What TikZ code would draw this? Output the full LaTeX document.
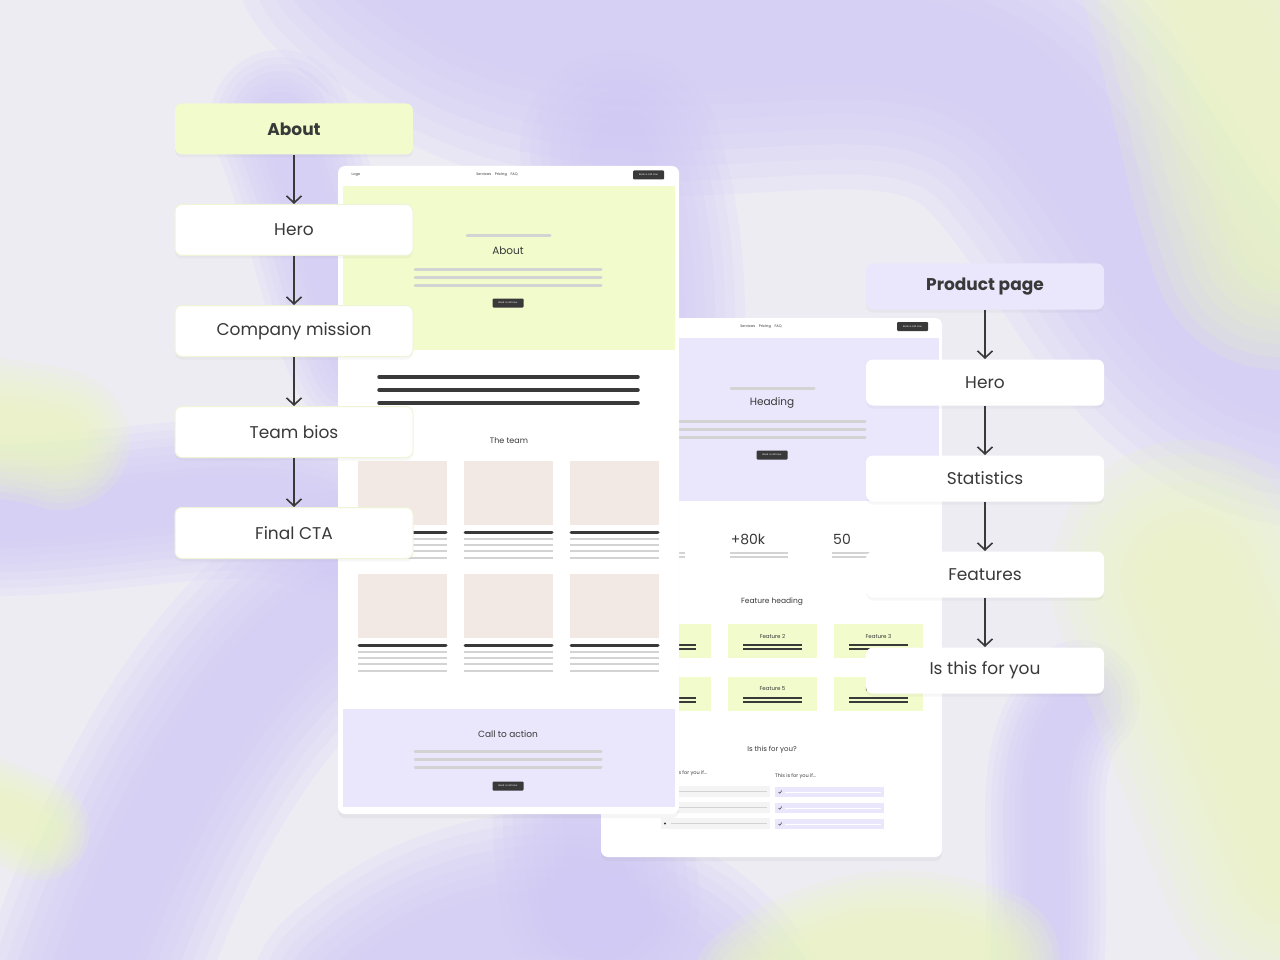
\documentclass[tikz,border=0pt]{standalone}
\usepackage{fontspec}
\setmainfont{Poppins}
\usetikzlibrary{arrows.meta,positioning,shadows}

\definecolor{bgbase}{HTML}{EDECF3}
\definecolor{swirl}{HTML}{D1CAFA}
\definecolor{limebg}{HTML}{EBF7C0}
\definecolor{lime}{HTML}{F1FBCB}
\definecolor{limeedge}{HTML}{EEF5D6}
\definecolor{lilac}{HTML}{EAE7FC}
\definecolor{ink}{HTML}{393939}
\definecolor{bar}{HTML}{D3D3D3}
\definecolor{card}{HTML}{F2E9E4}
\definecolor{rowgrey}{HTML}{F4F4F4}

% soft background strokes
\newcommand\swirl[3]{%
  \foreach \k in {2,1.8,1.6,1.4,1.2,1,0.8,0.6}{\draw[#1,opacity=0.16,line width=\k*#2pt,line cap=round] #3;}}

\begin{document}
\begin{tikzpicture}[x=1pt,y=-1pt,
   node distance=49pt,
   box/.style={draw=limeedge,line width=1pt,fill=white,rounded corners=7pt,
               minimum width=238pt,minimum height=51pt,text=ink,
               font=\fontsize{17}{20}\selectfont,
               drop shadow={opacity=0.06,shadow xshift=0pt,shadow yshift=-3pt}},
   head/.style={box,draw=none,fill=lime,font=\fontsize{17}{20}\selectfont\bfseries},
   rbox/.style={box,draw=none,minimum height=46pt},
   rhead/.style={head,fill=lilac,minimum height=46pt},
   arr/.style={-{Straight Barb[length=7pt,width=15pt,line width=1.6pt]},line width=1.6pt,draw=ink},
   page/.style={fill=white,rounded corners=7pt,
               drop shadow={opacity=0.08,shadow xshift=0pt,shadow yshift=-4pt}},
   greybar/.style={draw=bar,line width=3pt,line cap=round},
   thin/.style={draw=bar,line width=1.3pt},
   inkbar/.style={draw=ink,line width=3.5pt,line cap=round},
   btn/.style={fill=ink,text=white,inner sep=0pt,minimum width=31pt,minimum height=9pt,
               rounded corners=1pt,font=\fontsize{2.4}{3}\selectfont},
   nav/.style={text=ink,font=\fontsize{3.6}{4}\selectfont},
   txt/.style={text=ink,inner sep=0pt}
 ]
  \useasboundingbox (0,0) rectangle (1280,960);
  % background
  \fill[bgbase] (0,0) rectangle (1280,960);
  \begin{scope}
    \clip (0,0) rectangle (1280,960);
    \swirl{swirl}{150}{(380,-60) .. controls (600,160) and (880,-60) .. (1040,110) .. controls (1150,230) and (1180,380) .. (1340,380)}
    \swirl{swirl}{100}{(620,150) .. controls (700,400) and (560,650) .. (600,900)}
    \swirl{swirl}{80}{(-60,515) .. controls (120,525) and (240,470) .. (340,520)}
    \swirl{swirl}{110}{(80,1020) .. controls (140,820) and (240,660) .. (340,600)}
    \swirl{swirl}{110}{(360,1000) .. controls (480,890) and (650,900) .. (720,1010)}
    \swirl{swirl}{70}{(280,120) .. controls (320,220) and (330,300) .. (360,360)}
    \swirl{swirl}{60}{(1040,1000) .. controls (1060,860) and (1020,760) .. (1080,700)}
    \swirl{limebg}{130}{(1200,-60) .. controls (1240,60) and (1250,160) .. (1280,240)}
    \swirl{limebg}{140}{(1190,580) .. controls (1230,680) and (1260,760) .. (1300,860)}
    \swirl{limebg}{70}{(-50,420) .. controls (0,430) and (30,430) .. (60,440)}
    \swirl{limebg}{70}{(760,990) .. controls (840,930) and (920,930) .. (990,960)}
    \swirl{limebg}{50}{(-30,800) .. controls (0,810) and (20,820) .. (40,830)}
  \end{scope}

  % product page mockup
  \path[page] (601,318) rectangle (942,857);
  \node[nav] at (761,327) {Services\quad Pricing\quad FAQ};
  \node[btn] at (912.5,326.5) {Book a call now};
  \fill[lilac] (601,338) rectangle (939,501);
  \draw[greybar] (731,388) -- (814,388);
  \node[txt,font=\fontsize{10.5}{12}\selectfont] at (772,403) {Heading};
  \foreach \y in {421,429,437} \draw[greybar] (640,\y) -- (865,\y);
  \node[btn] at (772,455) {Book a call now};
  \node[txt,font=\fontsize{14}{16}\selectfont] at (748,539) {+80k};
  \node[txt,font=\fontsize{14}{16}\selectfont] at (842,539) {50};
  \foreach \y in {553,557}{
    \draw[thin] (670,\y) -- (685,\y);
    \draw[thin] (730,\y) -- (788,\y);
    \draw[thin] (832,\y) -- (890,\y);}
  \node[txt,font=\fontsize{7.5}{9}\selectfont] at (772,602) {Feature heading};
  \foreach \r/\y in {0/624,1/677}
    \foreach \c in {0,1,2}{
      \pgfmathtruncatemacro\n{3*\r+\c+1}
      \fill[lime] (622+106*\c,\y) rectangle ++(89,34);
      \node[txt,font=\fontsize{5.5}{6}\selectfont] at (666.5+106*\c,\y+12) {Feature \n};
      \draw[ink,line width=1.3pt] (637+106*\c,\y+21) -- ++(59,0);
      \draw[ink,line width=1.3pt] (637+106*\c,\y+25) -- ++(59,0);}
  \node[txt,font=\fontsize{7}{8}\selectfont] at (772,750) {Is this for you?};
  \node[txt,anchor=west,font=\fontsize{5}{6}\selectfont] at (666,773) {This is for you if...};
  \node[txt,anchor=west,font=\fontsize{5}{6}\selectfont] at (775,776) {This is for you if...};
  \foreach \y in {786,802,818}{
    \fill[rowgrey] (661,\y) rectangle ++(109,11);
    \fill[ink] (665,\y+5.5) circle (1.2);
    \draw[bar,line width=0.9pt] (671,\y+5.5) -- (767,\y+5.5);
    \fill[lilac] (775,\y+1) rectangle ++(109,10);
    \draw[ink,line width=0.5pt] (778.5,\y+6) -- (779.7,\y+7.3) -- (781.8,\y+4.5);
    \draw[white,line width=0.9pt] (785,\y+6) -- (881,\y+6);}

  % about page mockup
  \path[page] (338,166) rectangle (679,814);
  \node[nav] at (356,175) {Logo};
  \node[nav] at (497,175) {Services\quad Pricing\quad FAQ};
  \node[btn] at (648.5,175) {Book a call now};
  \fill[lime] (343,186) rectangle (675,350);
  \draw[greybar] (467,236) -- (550,236);
  \node[txt,font=\fontsize{10.5}{12}\selectfont] at (508,251) {About};
  \foreach \y in {269,277,285} \draw[greybar] (415,\y) -- (601,\y);
  \node[btn] at (508,303) {Book a call now};
  \foreach \y in {377,390,403} \draw[inkbar] (379,\y) -- (638,\y);
  \node[txt,font=\fontsize{8}{10}\selectfont] at (509,441) {The team};
  \foreach \x in {358,464,570}
    \foreach \y in {461,574}{
      \fill[card] (\x,\y) rectangle ++(89,64);
      \draw[inkbar,line width=3pt] (\x+1,\y+71) -- ++(87,0);
      \foreach \d in {78,84,90,97} \draw[thin] (\x,\y+\d) -- ++(89,0);}
  \fill[lilac] (343,709) rectangle (675,807);
  \node[txt,font=\fontsize{9}{11}\selectfont] at (508,734) {Call to action};
  \foreach \y in {751,759,767} \draw[greybar] (415,\y) -- (601,\y);
  \node[btn] at (508,786) {Book a call now};

  % about flow
  \node[head] (about) at (294,129) {About};
  \node[box,below=of about] (hero) {Hero};
  \node[box,below=of hero] (mission) {Company mission};
  \node[box,below=of mission] (team) {Team bios};
  \node[box,below=of team] (cta) {Final CTA};
  \draw[arr] (about) -- (hero);
  \draw[arr] (hero) -- (mission);
  \draw[arr] (mission) -- (team);
  \draw[arr] (team) -- (cta);

  % product flow
  \node[rhead] (product) at (985,286.5) {Product page};
  \node[rbox,below=of product] (prodhero) {Hero};
  \node[rbox,below=of prodhero] (stats) {Statistics};
  \node[rbox,below=of stats] (features) {Features};
  \node[rbox,below=of features] (foryou) {Is this for you};
  \draw[arr] (product) -- (prodhero);
  \draw[arr] (prodhero) -- (stats);
  \draw[arr] (stats) -- (features);
  \draw[arr] (features) -- (foryou);
 \end{tikzpicture}
\end{document}
